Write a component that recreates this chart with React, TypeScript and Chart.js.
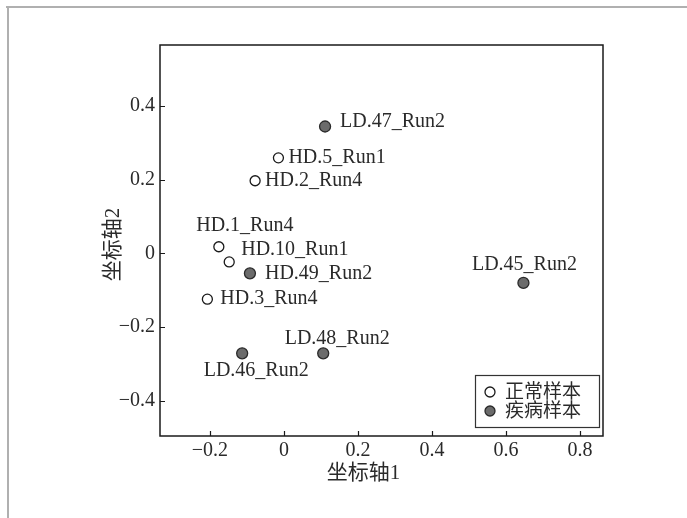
import React, { useEffect, useRef } from "react";
import { Chart, registerables } from "chart.js";

Chart.register(...registerables);

const normalNames = ["HD.5_Run1", "HD.2_Run4", "HD.1_Run4", "HD.10_Run1", "HD.3_Run4"];
const normalX = [-0.015, -0.078, -0.176, -0.148, -0.207];
const normalY = [0.259, 0.197, 0.018, -0.023, -0.124];

const diseaseNames = ["LD.47_Run2", "HD.49_Run2", "LD.46_Run2", "LD.48_Run2", "LD.45_Run2"];
const diseaseX = [0.111, -0.092, -0.113, 0.106, 0.647];
const diseaseY = [0.344, -0.054, -0.271, -0.271, -0.08];

const seriesLabels = ["正常样本", "疾病样本"];
const xTicks = [-0.2, 0, 0.2, 0.4, 0.6, 0.8];
const yTicks = [-0.4, -0.2, 0, 0.2, 0.4];
const xTitle = "坐标轴1";
const yTitle = "坐标轴2";

// label styling: [dx, dy, align]
const normalLabelStyle: [number, number, CanvasTextAlign][] = [
  [10, 0, "left"],
  [10, 0, "left"],
  [26, -21, "center"],
  [12, -12, "left"],
  [13, 0, "left"],
];
const diseaseLabelStyle: [number, number, CanvasTextAlign][] = [
  [15, -5, "left"],
  [15, 0, "left"],
  [14, 17, "center"],
  [14, -15, "center"],
  [1, -18, "center"],
];

const FONT = "'Liberation Serif', 'Times New Roman', serif";
const CJK = "'Liberation Serif', 'Noto Sans CJK SC', serif";
const TEXT = "#2a2a2a";

function fmt(v: number) {
  if (Math.abs(v) < 1e-9) return "0";
  return (v < 0 ? "\u2212" : "") + Math.abs(v).toFixed(1);
}

const decoPlugin = {
  id: "deco",
  beforeDraw(chart: any) {
    const ctx = chart.ctx;
    ctx.save();
    ctx.fillStyle = "#ffffff";
    ctx.fillRect(0, 0, chart.width, chart.height);
    ctx.fillStyle = "#b0b0b0";
    ctx.fillRect(6, 6, chart.width - 6, 2);
    ctx.fillRect(7, 6, 2, chart.height - 6);
    ctx.restore();
  },
  afterDraw(chart: any) {
    const ctx = chart.ctx;
    const a = chart.chartArea;
    const xs = chart.scales.x;
    const ys = chart.scales.y;
    ctx.save();
    // frame
    ctx.strokeStyle = "#1a1a1a";
    ctx.lineWidth = 1.5;
    ctx.strokeRect(a.left, a.top, a.right - a.left, a.bottom - a.top);
    // inward ticks
    ctx.lineWidth = 1.2;
    ctx.beginPath();
    xTicks.forEach((t) => {
      const px = Math.round(xs.getPixelForValue(t)) + 0.5;
      ctx.moveTo(px, a.bottom);
      ctx.lineTo(px, a.bottom - 5);
    });
    yTicks.forEach((t) => {
      const py = Math.round(ys.getPixelForValue(t)) + 0.5;
      ctx.moveTo(a.left, py);
      ctx.lineTo(a.left + 5, py);
    });
    ctx.stroke();

    // point labels
    ctx.fillStyle = TEXT;
    ctx.font = `20px ${FONT}`;
    ctx.textBaseline = "middle";
    const drawLabels = (names: string[], xv: number[], yv: number[], st: [number, number, CanvasTextAlign][]) => {
      names.forEach((n, i) => {
        const px = xs.getPixelForValue(xv[i]);
        const py = ys.getPixelForValue(yv[i]);
        ctx.textAlign = st[i][2];
        ctx.fillText(n, px + st[i][0], py + st[i][1]);
      });
    };
    drawLabels(normalNames, normalX, normalY, normalLabelStyle);
    drawLabels(diseaseNames, diseaseX, diseaseY, diseaseLabelStyle);

    // axis titles
    ctx.font = `21px ${CJK}`;
    ctx.textAlign = "center";
    ctx.fillText(xTitle, (a.left + a.right) / 2 - 18, 473);
    ctx.save();
    ctx.translate(113, (a.top + a.bottom) / 2 + 4);
    ctx.rotate(-Math.PI / 2);
    ctx.fillText(yTitle, 0, 0);
    ctx.restore();

    // legend
    const lx = a.right - 128;
    const ly = a.bottom - 61;
    ctx.fillStyle = "#ffffff";
    ctx.fillRect(lx, ly, 124, 52);
    ctx.strokeStyle = "#333333";
    ctx.lineWidth = 1.2;
    ctx.strokeRect(lx + 0.5, ly + 0.5, 124, 52);
    chart.data.datasets.forEach((ds: any, i: number) => {
      const cy = ly + 17 + i * 19;
      ctx.beginPath();
      ctx.arc(lx + 15, cy, 5, 0, Math.PI * 2);
      ctx.fillStyle = ds.pointBackgroundColor;
      ctx.fill();
      ctx.lineWidth = 1.3;
      ctx.strokeStyle = ds.pointBorderColor;
      ctx.stroke();
      ctx.fillStyle = TEXT;
      ctx.font = `19px ${CJK}`;
      ctx.textAlign = "left";
      ctx.textBaseline = "middle";
      ctx.fillText(ds.label, lx + 30, cy + 1);
    });
    ctx.restore();
  },
};

export default function App() {
  const ref = useRef<HTMLCanvasElement | null>(null);
  useEffect(() => {
    if (!ref.current) return;
    const chart = new Chart(ref.current, {
      type: "scatter",
      data: {
        datasets: [
          {
            label: seriesLabels[0],
            data: normalX.map((x, i) => ({ x, y: normalY[i] })),
            pointRadius: 5,
            pointBorderWidth: 1.3,
            pointBackgroundColor: "#ffffff",
            pointBorderColor: "#1a1a1a",
          } as any,
          {
            label: seriesLabels[1],
            data: diseaseX.map((x, i) => ({ x, y: diseaseY[i] })),
            pointRadius: 5.5,
            pointBorderWidth: 1.3,
            pointBackgroundColor: "#6b6b6b",
            pointBorderColor: "#2a2a2a",
          } as any,
        ],
      },
      options: {
        responsive: false,
        animation: false,
        devicePixelRatio: 1,
        layout: { padding: { top: 45, right: 84, left: 0, bottom: 0 } },
        plugins: { legend: { display: false }, tooltip: { enabled: false } },
        scales: {
          x: {
            type: "linear",
            min: -0.335,
            max: 0.862,
            grid: { display: false, drawTicks: false },
            border: { display: false },
            afterFit: (s: any) => {
              s.height = 82;
            },
            afterBuildTicks: (s: any) => {
              s.ticks = xTicks.map((v) => ({ value: v }));
            },
            ticks: {
              padding: 3,
              color: TEXT,
              font: { size: 20, family: FONT },
              callback: (v: any) => fmt(Number(v)),
            },
          },
          y: {
            type: "linear",
            min: -0.495,
            max: 0.565,
            grid: { display: false, drawTicks: false },
            border: { display: false },
            afterFit: (s: any) => {
              s.width = 160;
            },
            afterBuildTicks: (s: any) => {
              s.ticks = yTicks.map((v) => ({ value: v }));
            },
            ticks: {
              padding: 5,
              color: TEXT,
              font: { size: 20, family: FONT },
              callback: (v: any) => fmt(Number(v)),
            },
          },
        },
      },
      plugins: [decoPlugin],
    });
    return () => chart.destroy();
  }, []);
  return (
    <div style={{ position: "absolute", left: 0, top: 0, width: 687, height: 518 }}>
      <canvas ref={ref} width={687} height={518} style={{ width: 687, height: 518 }} />
    </div>
  );
}
